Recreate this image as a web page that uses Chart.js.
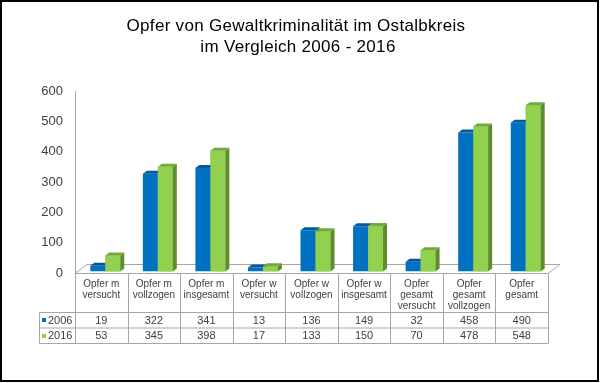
<!DOCTYPE html>
<html><head><meta charset="utf-8">
<script src="https://cdn.jsdelivr.net/npm/chart.js@4"></script>
<style>html,body{margin:0;padding:0;background:#fff}#wrap{width:600px;height:383px;position:relative}canvas{display:block}</style>
</head><body><div id="wrap"><canvas id="c" width="600" height="383"></canvas></div>
<script>
const categories = [["Opfer m","versucht"],["Opfer m","vollzogen"],["Opfer m","insgesamt"],["Opfer w","versucht"],["Opfer w","vollzogen"],["Opfer w","insgesamt"],["Opfer","gesamt","versucht"],["Opfer","gesamt","vollzogen"],["Opfer","gesamt"]];
const seriesNames = ["2006", "2016"];
const values2006 = [19, 322, 341, 13, 136, 149, 32, 458, 490];
const values2016 = [53, 345, 398, 17, 133, 150, 70, 478, 548];
const yTicks = [0, 100, 200, 300, 400, 500, 600];
const titleLines = ["Opfer von Gewaltkriminalität im Ostalbkreis", "im Vergleich 2006 - 2016"];

const FONT = "'Liberation Sans', Arial, sans-serif";
const TITLE_FONT = "'Liberation Sans', Arial, sans-serif";
const front = ["#0070C0", "#92D050"];
const topC = ["#005A9C", "#74A83C"];
const sideC = ["#004E86", "#5E8C2E"];
const GRID = "#A6A6A6";
const DX = 4, DY = 3;       // bar depth
const SHIFT_X = 4, SHIFT_Y = -1.5; // bar position in depth
const FLOOR_DX = 12, FLOOR_DY = 9;

const titlePlugin = {
  id: 'titleDraw',
  afterDraw(chart) {
    const ctx = chart.ctx;
    ctx.save();
    ctx.fillStyle = "#000";
    ctx.font = "17px " + TITLE_FONT;
    try { ctx.letterSpacing = "0.3px"; } catch (e) {}
    ctx.textAlign = "center"; ctx.textBaseline = "alphabetic";
    ctx.fillText(titleLines[0], 296, 31);
    ctx.fillText(titleLines[1], 298, 52);
    ctx.restore();
  }
};

const bars3d = {
  id: 'bars3d',
  beforeDatasetsDraw(chart) {
    const ctx = chart.ctx, a = chart.chartArea;
    ctx.save();
    ctx.strokeStyle = GRID; ctx.lineWidth = 1;
    const b = Math.round(a.bottom) + 0.5;
    ctx.beginPath();
    ctx.moveTo(a.left, b);
    ctx.lineTo(a.left + FLOOR_DX, b - FLOOR_DY);
    ctx.lineTo(a.right + FLOOR_DX, b - FLOOR_DY);
    ctx.lineTo(a.right, b);
    ctx.stroke();
    ctx.restore();
    ctx.save();
    ctx.translate(SHIFT_X, SHIFT_Y);
  },
  afterDatasetsDraw(chart) {
    const ctx = chart.ctx;
    const n = chart.data.labels.length;
    for (let i = 0; i < n; i++) {
      for (let d = 0; d < 2; d++) {
        const el = chart.getDatasetMeta(d).data[i];
        const l = el.x - el.width / 2, r = el.x + el.width / 2, t = el.y, bs = el.base;
        if (d === 1) { ctx.fillStyle = front[1]; ctx.fillRect(l, t, r - l, bs - t); }
        ctx.fillStyle = sideC[d];
        ctx.beginPath();
        ctx.moveTo(r, t); ctx.lineTo(r + DX, t - DY); ctx.lineTo(r + DX, bs - DY); ctx.lineTo(r, bs); ctx.closePath(); ctx.fill();
        ctx.fillStyle = topC[d];
        ctx.beginPath();
        ctx.moveTo(l, t); ctx.lineTo(l + DX, t - DY); ctx.lineTo(r + DX, t - DY); ctx.lineTo(r, t); ctx.closePath(); ctx.fill();
      }
    }
    ctx.restore();
  }
};

const dataTable = {
  id: 'dataTable',
  afterDraw(chart) {
    const ctx = chart.ctx, a = chart.chartArea, xs = chart.scales.x;
    const n = chart.data.labels.length;
    const half = (xs.getPixelForValue(1) - xs.getPixelForValue(0)) / 2;
    const top = Math.round(a.bottom) + 0.5;
    const r1 = top + 39, r2 = r1 + 15.5, r3 = r2 + 15.5;
    const legL = 39.5;
    ctx.save();
    ctx.strokeStyle = GRID; ctx.lineWidth = 1;
    ctx.beginPath();
    ctx.moveTo(a.left, top); ctx.lineTo(a.right, top);
    ctx.moveTo(legL, r1); ctx.lineTo(a.right, r1);
    ctx.moveTo(legL, r2); ctx.lineTo(a.right, r2);
    ctx.moveTo(legL, r3); ctx.lineTo(a.right, r3);
    ctx.moveTo(legL, r1); ctx.lineTo(legL, r3);
    for (let i = 0; i <= n; i++) {
      const x = Math.round(xs.getPixelForValue(0) - half + i * 2 * half) + 0.5;
      ctx.moveTo(x, top); ctx.lineTo(x, r3);
    }
    ctx.stroke();
    ctx.fillStyle = "#404040";
    ctx.textAlign = "center"; ctx.textBaseline = "middle";
    ctx.font = "10px " + FONT;
    chart.data.labels.forEach((lab, i) => {
      const cx = xs.getPixelForValue(i);
      lab.forEach((line, k) => ctx.fillText(line, cx, top + 11 + k * 11));
    });
    ctx.font = "11px " + FONT;
    chart.data.datasets.forEach((ds, d) => {
      const cy = d === 0 ? (r1 + r2) / 2 : (r2 + r3) / 2;
      ds.data.forEach((v, i) => ctx.fillText(String(v), xs.getPixelForValue(i), cy + 0.5));
      ctx.fillStyle = front[d];
      ctx.fillRect(42, Math.round(cy) - 2, 4, 4);
      ctx.fillStyle = "#404040";
      ctx.textAlign = "left";
      ctx.fillText(ds.label, 48, cy + 0.5);
      ctx.textAlign = "center";
    });
    ctx.strokeStyle = "#000"; ctx.lineWidth = 2;
    ctx.strokeRect(1, 1, 597, 380);
    ctx.restore();
  }
};

new Chart(document.getElementById('c'), {
  type: 'bar',
  data: {
    labels: categories,
    datasets: [
      { label: seriesNames[0], data: values2006, backgroundColor: front[0] },
      { label: seriesNames[1], data: values2016, backgroundColor: front[1] }
    ]
  },
  options: {
    responsive: false, animation: false, devicePixelRatio: 1,
    categoryPercentage: 0.57, barPercentage: 1,
    layout: { padding: { top: 91, left: 0, right: 52, bottom: 110 } },
    plugins: {
      legend: { display: false }, tooltip: { enabled: false }, title: { display: false }
    },
    scales: {
      x: { display: false },
      y: {
        min: 0, max: 600,
        afterBuildTicks(s) { s.ticks = yTicks.map(v => ({ value: v })); },
        afterFit(s) { s.width = 75; },
        grid: { display: false, drawTicks: false },
        border: { display: true, color: GRID, width: 1 },
        ticks: { color: "#404040", font: { family: FONT, size: 13 }, padding: 12 }
      }
    }
  },
  plugins: [bars3d, dataTable, titlePlugin]
});
</script>
</body></html>
